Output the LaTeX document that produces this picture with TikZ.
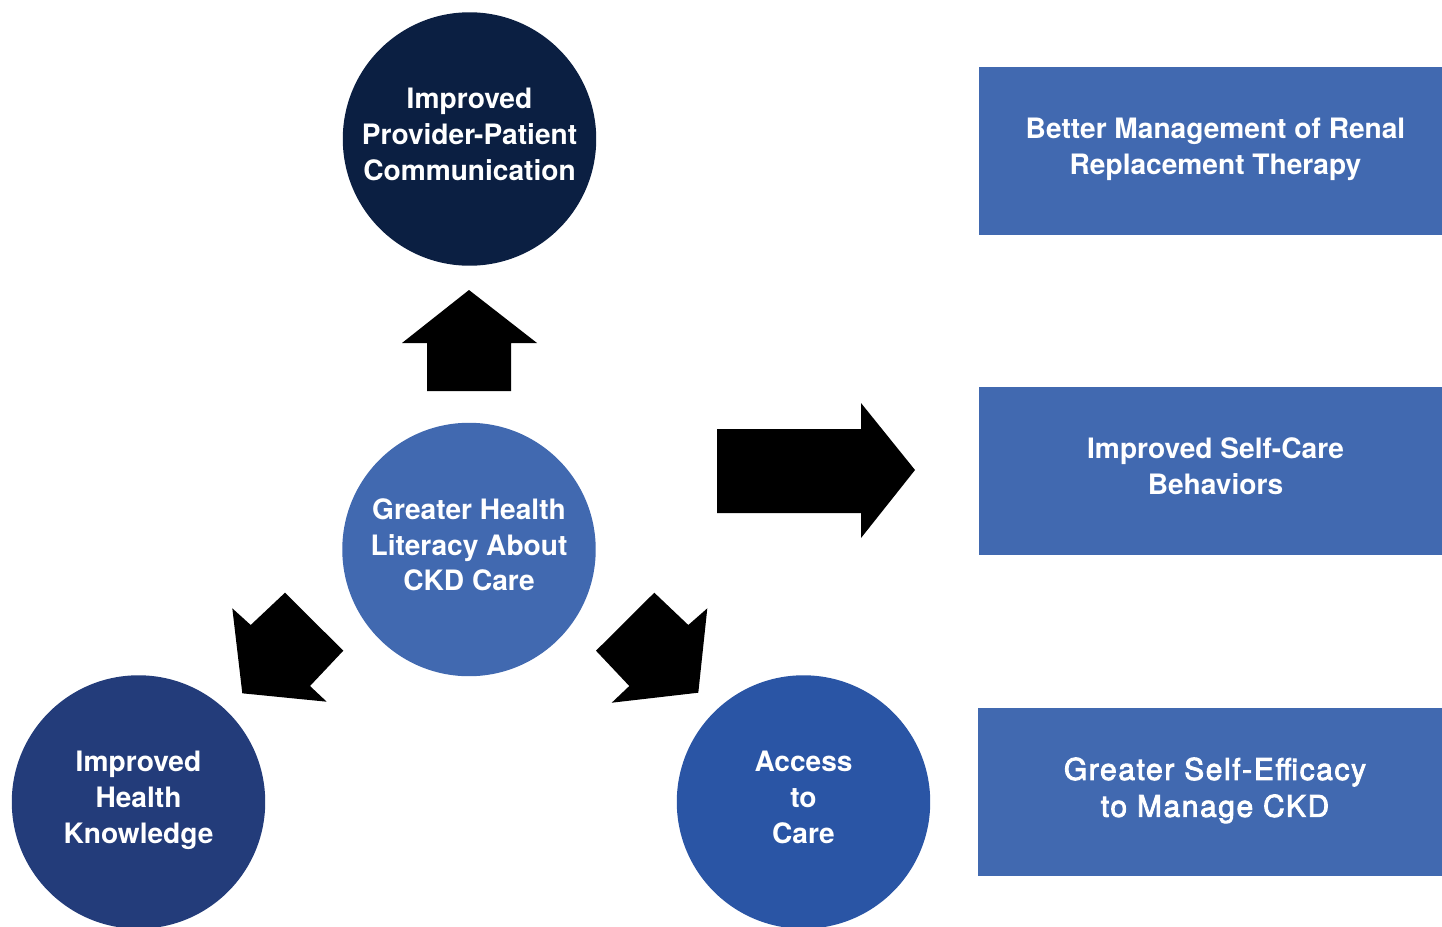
\documentclass[tikz,border=0pt]{standalone}
\usepackage{fontspec}
\setmainfont{TeX Gyre Heros}
\newfontfamily\medfont[LetterSpace=5.5]{TeX Gyre Heros}
\usepackage{xcolor}
\usepackage{tikz}
\usetikzlibrary{positioning,shapes}
\definecolor{navy}{HTML}{0B1F42}
\definecolor{midblue}{HTML}{4169B0}
\definecolor{deepblue}{HTML}{233C7A}
\definecolor{royal}{HTML}{2A55A5}
% slightly heavier strokes for the medium weight text
\newcommand{\thicken}{\special{pdf:literal direct 2 Tr 0.5 w}}
\newcommand{\unthicken}{\special{pdf:literal direct 0 Tr}}
\tikzset{%
	bubble/.style  = {circle, minimum size=5.07cm, inner sep=0pt, text=white, align=center, text depth=5.5pt, font=\bfseries\fontsize{16}{20.4}\selectfont},
	outcome/.style = {rectangle, fill=midblue, minimum width=9.27cm, minimum height=3.36cm, inner sep=0pt},
	caption/.style = {text=white, align=center, xshift=0.1cm, text depth=5.5pt, font=\bfseries\fontsize{16}{20.4}\selectfont},
	blockarrow/.style = {fill=black},
}
\begin{document}
\begin{tikzpicture}[x=0.02cm,y=-0.02cm]
	\useasboundingbox (0,0) rectangle (1442,926);
	\clip (0,0) rectangle (1442,926);
	
	% circles
	\node[bubble, fill=navy] (comm) at (469.5,139) {Improved\\Provider-Patient\\Communication};
	\node[bubble, fill=midblue] (lit) at (469,549.5) {Greater Health\\Literacy About\\CKD Care};
	\node[bubble, fill=deepblue] (know) at (138.5,802) {Improved\\Health\\Knowledge};
	\node[bubble, fill=royal] (access) at (803.5,802) {Access\\to\\Care};
	
	% outcome boxes
	\node[outcome, label={[caption]center:{Better Management of Renal\\Replacement Therapy}}] (rrt) at (1210.5,151) {};
	\node[outcome, label={[caption]center:{Improved Self-Care\\Behaviors}}] (selfcare) at (1210.5,471) {};
	\node[outcome, label={[caption, font=\medfont\fontsize{17}{21}\selectfont]center:{\thicken Greater Self-Efficacy\\to Manage CKD\unthicken}}] (efficacy) at (1210,792) {};
	
	% block arrows
	\fill[blockarrow] (427,391) -- (427,343) -- (402,343) -- (469,290) -- (537,343) -- (511,343) -- (511,391) -- cycle;  % up
	\fill[blockarrow] (717,429) -- (861,429) -- (861,403) -- (915,470) -- (861,538) -- (861,513) -- (717,513) -- cycle;  % right
	\fill[blockarrow] (285,592.7) -- (250.7,625) -- (232.3,608.3) -- (242.3,693.3) -- (326.7,701.7) -- (310,686) -- (343.3,650.7) -- cycle;  % down left
	\fill[blockarrow] (654.3,592.7) -- (688.3,625) -- (707.3,608.3) -- (698.3,692.7) -- (611.7,702.7) -- (629.3,686) -- (596,650.7) -- cycle;  % down right
	
\end{tikzpicture}
\end{document}
